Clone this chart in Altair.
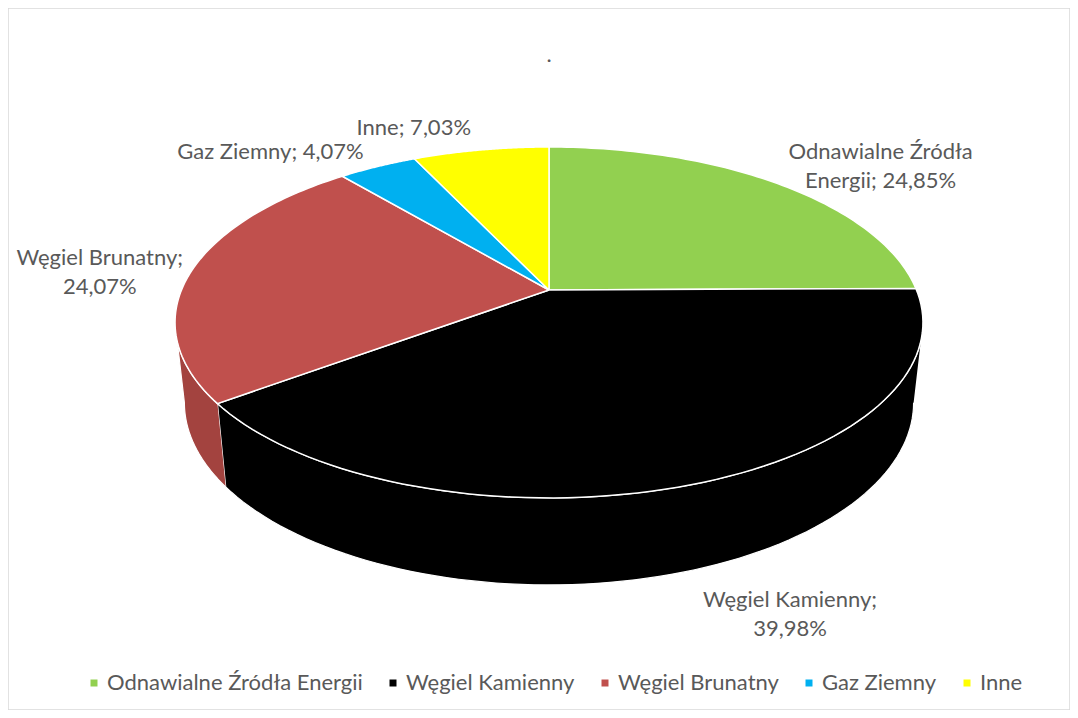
import altair as alt
import pandas as pd
import textwrap

# ---- data ----
categories = ["Odnawialne Źródła Energii", "Węgiel Kamienny", "Węgiel Brunatny", "Gaz Ziemny", "Inne"]
values = [24.85, 39.98, 24.07, 4.07, 7.03]
top_colors = ["#92D050", "#000000", "#C0504D", "#00B0F0", "#FFFF00"]
side_colors = ["#6E9E3C", "#000000", "#A3433F", "#0085B5", "#BFBF00"]

# label text: "name; xx,xx%" wrapped like the original
label_texts = ["\n".join(textwrap.wrap(f"{c}; {v:.2f}%".replace(".", ","), 18)) for c, v in zip(categories, values)]

# layout only: label offsets (px) from the rim point at slice mid-angle
label_dx = [103, 99, -92, -107, -67]
label_dy = [-32, 115, -13, -15, -22]

df = pd.DataFrame({
    "idx": list(range(len(categories))),
    "cat": categories,
    "value": values,
    "label": label_texts,
    "ldx": label_dx,
    "ldy": label_dy,
})

# projection parameters (pixel layout of the 3D pie)
CX, CY, A, D, G = 549, 290, 367.5, 115.8, -0.185
N = 80
PHI_L = 1.7569  # tangent angle (front side starts)
PHI_R = 2 * 3.141592653589793 - PHI_L
FONT = "Lato"
TXT = "#595959"
FS = 22

X_SCALE = alt.Scale(domain=[8, 1070], nice=False, zero=False)
Y_SCALE = alt.Scale(domain=[8, 710], nice=False, zero=False, reverse=True)


def proj(prefix, phi, r="1"):
    return [
        {"calculate": f"({r})*sin({phi})", "as": prefix + "u"},
        {"calculate": f"-({r})*cos({phi})", "as": prefix + "v"},
        {"calculate": f"1 + ({G})*datum.{prefix}v", "as": prefix + "den"},
        {"calculate": f"{CX} + {A}*datum.{prefix}u/datum.{prefix}den", "as": prefix + "X"},
        {"calculate": f"({CY} + {D}*datum.{prefix}v)/datum.{prefix}den", "as": prefix + "Y"},
    ]


base = alt.Chart(df).transform_window(
    cum="sum(value)", sort=[alt.SortField("idx")], frame=[None, 0]
).transform_joinaggregate(
    total="sum(value)"
).transform_calculate(
    a0="2*PI*(datum.cum - datum.value)/datum.total",
    a1="2*PI*datum.cum/datum.total",
)

# ---- side walls ----
side_tf = [
    {"calculate": f"max(datum.a0, {PHI_L})", "as": "sa"},
    {"calculate": f"min(datum.a1, {PHI_R})", "as": "sb"},
    {"filter": "datum.sa < datum.sb"},
    {"calculate": f"sequence(0, {2 * (N + 1)})", "as": "ks"},
    {"flatten": ["ks"], "as": ["k"]},
    {"calculate": f"datum.k <= {N} ? datum.sa + (datum.k/{N})*(datum.sb-datum.sa) : datum.sb - ((datum.k-{N}-1)/{N})*(datum.sb-datum.sa)", "as": "phi"},
    {"calculate": f"datum.k <= {N} ? 0 : 1", "as": "bottom"},
]
side_tf += proj("p", "datum.phi")
side_tf += [
    {"calculate": f"datum.bottom ? {CX} + (datum.pX-{CX})*0.975 : datum.pX", "as": "X"},
    {"calculate": "datum.bottom ? datum.pY + 43.5 + 35.45/datum.pden : datum.pY", "as": "Y"},
]

# ---- top faces ----
top_tf = [
    {"calculate": f"sequence(0, {N + 3})", "as": "ks"},
    {"flatten": ["ks"], "as": ["k"]},
    {"calculate": f"(datum.k == 0 || datum.k == {N + 2}) ? 0 : 1", "as": "r"},
    {"calculate": f"datum.a0 + min(max((datum.k-1)/{N}, 0), 1)*(datum.a1-datum.a0)", "as": "phi"},
]
top_tf += proj("p", "datum.phi", "datum.r")

# ---- labels ----
lab_tf = [{"calculate": "(datum.a0 + datum.a1)/2", "as": "mid"}]
lab_tf += proj("p", "datum.mid")
lab_tf += [
    {"calculate": "datum.pX + datum.ldx", "as": "LX"},
    {"calculate": "datum.pY + datum.ldy", "as": "LY"},
]


def with_tf(chart, tfs):
    ch = chart
    for t in tfs:
        if "filter" in t:
            ch = ch.transform_filter(t["filter"])
        elif "flatten" in t:
            ch = ch.transform_flatten(t["flatten"], as_=t["as"])
        else:
            ch = ch.transform_calculate(**{t["as"]: t["calculate"]})
    return ch


side_layer = with_tf(base, side_tf).mark_line(
    stroke="white", strokeWidth=1.2, interpolate="linear"
).encode(
    x=alt.X("X:Q", scale=X_SCALE, axis=None),
    y=alt.Y("Y:Q", scale=Y_SCALE, axis=None),
    fill=alt.Fill("cat:N", scale=alt.Scale(domain=categories, range=side_colors), legend=None),
    detail="cat:N",
    order=alt.Order("k:Q"),
)

top_layer = with_tf(base, top_tf).transform_calculate(
    catTop="datum.cat"
).mark_line(
    stroke="white", strokeWidth=1.5, interpolate="linear"
).encode(
    x=alt.X("pX:Q", scale=X_SCALE, axis=None),
    y=alt.Y("pY:Q", scale=Y_SCALE, axis=None),
    fill=alt.Fill(
        "catTop:N",
        scale=alt.Scale(domain=categories, range=top_colors),
        legend=alt.Legend(
            title=None, orient="none", direction="horizontal",
            legendX=75, legendY=664,
            symbolType="square", symbolSize=49, symbolStrokeWidth=0,
            labelFont=FONT, labelFontSize=FS, labelColor=TXT, labelLimit=0,
            labelOffset=2, columnPadding=19, symbolOpacity=1, padding=0,
        ),
    ),
    detail="cat:N",
    order=alt.Order("k:Q"),
)

label_layer = with_tf(base, lab_tf).mark_text(
    font=FONT, fontSize=FS, color=TXT, lineBreak="\n", align="center", baseline="middle", lineHeight=29
).encode(
    x=alt.X("LX:Q", scale=X_SCALE, axis=None),
    y=alt.Y("LY:Q", scale=Y_SCALE, axis=None),
    text="label:N",
)

chart = alt.layer(side_layer, top_layer, label_layer).resolve_scale(
    fill="independent"
).properties(
    width=1062, height=702, padding=0,
    title=alt.TitleParams(".", fontSize=FS, color=TXT, font=FONT, offset=-59, dx=10, anchor="middle", fontWeight="normal"),
).configure_view(stroke="#d9d9d9", strokeWidth=1.5)

chart.save("out.html", embed_options={"renderer": "svg", "actions": False})
